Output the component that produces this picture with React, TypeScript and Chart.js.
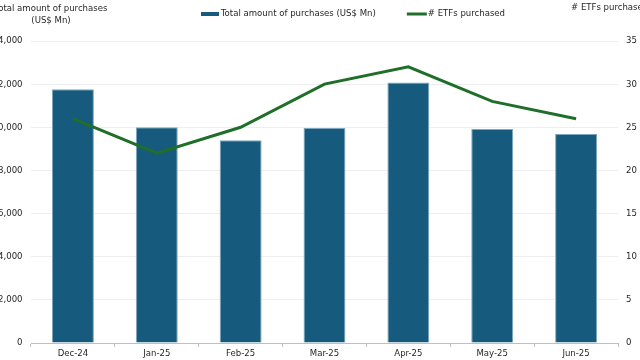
import React, { useEffect, useRef } from "react";
import { Chart, registerables } from "chart.js";

Chart.register(...registerables);

const categories = ["Dec-24", "Jan-25", "Feb-25", "Mar-25", "Apr-25", "May-25", "Jun-25"];
const purchaseAmounts = [11760, 10000, 9400, 9970, 12080, 9920, 9690];
const etfCounts = [26, 22, 25, 30, 32, 28, 26];
const leftAxisMax = 14000;
const leftAxisStep = 2000;
const rightAxisMax = 35;
const rightAxisStep = 5;

const barLabel = "Total amount of purchases (US$ Mn)";
const lineLabel = "# ETFs purchased";
const leftTitle = ["Total amount of purchases", "(US$ Mn)"];
const rightTitle = "# ETFs purchased";

const FONT = "'DejaVu Sans Condensed', 'DejaVu Sans', sans-serif";
const FONT_SIZE = 9.5;
const TEXT = "#262626";
const BAR = "#165b7e";
const BAR_BORDER = "#7ea6be";
const LINE = "#1f6e29";

const decorPlugin = {
  id: "decor",
  afterDraw(chart: any) {
    const ctx = chart.ctx as CanvasRenderingContext2D;
    const area = chart.chartArea;
    ctx.save();
    ctx.font = `${FONT_SIZE}px ${FONT}`;
    ctx.fillStyle = TEXT;
    ctx.textBaseline = "middle";
    // left axis title
    ctx.textAlign = "center";
    const lx = area.left + 20;
    ctx.fillText(leftTitle[0], lx, 8.5);
    ctx.fillText(leftTitle[1], lx, 20.5);
    // right axis title
    ctx.textAlign = "left";
    ctx.fillText(rightTitle, area.right - 47, 8);
    // legend
    const ly = 14;
    let x = area.left + 170;
    ctx.fillStyle = BAR;
    ctx.fillRect(x, ly - 2, 18, 4);
    x += 20;
    ctx.fillStyle = TEXT;
    ctx.fillText(barLabel, x, ly);
    x += ctx.measureText(barLabel).width + 31;
    ctx.strokeStyle = LINE;
    ctx.lineWidth = 3;
    ctx.beginPath();
    ctx.moveTo(x, ly);
    ctx.lineTo(x + 20, ly);
    ctx.stroke();
    x += 21;
    ctx.fillText(lineLabel, x, ly);
    ctx.restore();
  },
};

export default function App() {
  const ref = useRef<HTMLCanvasElement | null>(null);
  useEffect(() => {
    if (!ref.current) return;
    const font = { family: FONT, size: FONT_SIZE };
    const chart = new Chart(ref.current, {
      data: {
        labels: categories,
        datasets: [
          {
            type: "line",
            label: lineLabel,
            data: etfCounts,
            yAxisID: "y1",
            borderColor: LINE,
            backgroundColor: LINE,
            borderWidth: 3,
            pointRadius: 0,
            tension: 0,
            order: 0,
          },
          {
            type: "bar",
            label: barLabel,
            data: purchaseAmounts,
            yAxisID: "y",
            backgroundColor: BAR,
            borderColor: BAR_BORDER,
            borderWidth: 1,
            categoryPercentage: 1,
            barPercentage: 0.5,
            order: 1,
          },
        ],
      } as any,
      options: {
        animation: false,
        responsive: true,
        maintainAspectRatio: false,
        layout: { padding: { top: 41, left: 0, right: 0, bottom: 0 } },
        plugins: { legend: { display: false }, tooltip: { enabled: false } },
        scales: {
          x: {
            grid: {
              display: true,
              drawOnChartArea: false,
              drawTicks: true,
              tickLength: 4,
              color: "#bfbfbf",
              offset: true,
            },
            border: { color: "#bfbfbf" },
            ticks: { color: TEXT, font, padding: 1, maxRotation: 0 },
            afterFit: (s: any) => {
              s.height = 17;
            },
          },
          y: {
            position: "left",
            min: 0,
            max: leftAxisMax,
            grid: { color: "#eeeeee", drawTicks: false },
            border: { display: false },
            ticks: {
              stepSize: leftAxisStep,
              color: TEXT,
              font,
              padding: 8.5,
              callback: (v: any) => Number(v).toLocaleString("en-US"),
            },
            afterFit: (s: any) => {
              s.width = 43;
            },
          },
          y1: {
            position: "right",
            min: 0,
            max: rightAxisMax,
            grid: { display: false, drawTicks: false },
            border: { display: false },
            ticks: { stepSize: rightAxisStep, color: TEXT, font, padding: 8 },
            afterFit: (s: any) => {
              s.width = 42;
            },
          },
        },
      } as any,
      plugins: [decorPlugin],
    });
    return () => chart.destroy();
  }, []);

  return (
    <div
      style={{
        position: "fixed",
        left: 0,
        top: 0,
        width: 640,
        height: 360,
        overflow: "hidden",
        background: "#fff",
      }}
    >
      <div style={{ position: "absolute", left: -12, top: 0, width: 672, height: 360 }}>
        <canvas ref={ref} />
      </div>
    </div>
  );
}
